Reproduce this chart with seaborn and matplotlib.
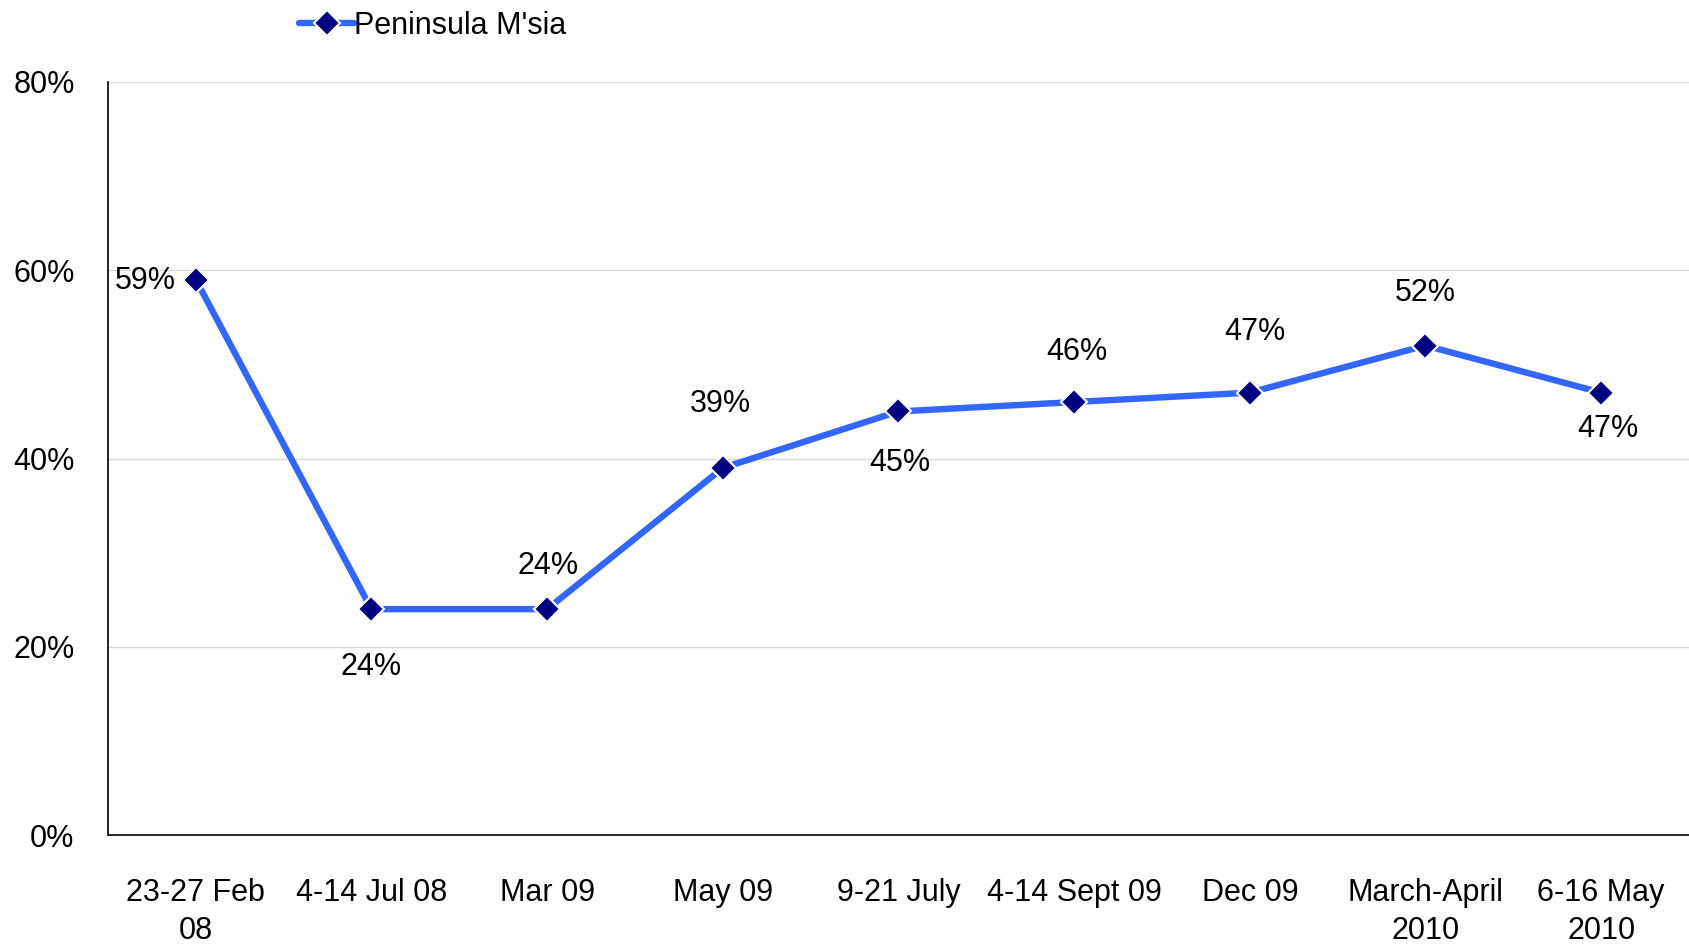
import matplotlib
matplotlib.use("Agg")
import matplotlib.pyplot as plt
import seaborn as sns
import numpy as np
import pandas as pd

sns.set_style("white")
plt.rcParams["font.family"] = ["Liberation Sans Narrow", "Liberation Sans", "DejaVu Sans"]
plt.rcParams["text.color"] = "black"
plt.rcParams["xtick.color"] = "#808080"
plt.rcParams["ytick.color"] = "#808080"
plt.rcParams["xtick.labelcolor"] = "black"
plt.rcParams["ytick.labelcolor"] = "black"

periods = ["23-27 Feb\n08", "4-14 Jul 08", "Mar 09", "May 09", "9-21 July",
           "4-14 Sept 09", "Dec 09", "March-April\n2010", "6-16 May\n2010"]
values = [0.59, 0.24, 0.24, 0.39, 0.45, 0.46, 0.47, 0.52, 0.47]
series_name = "Peninsula M'sia"
y_ticks = [0.0, 0.2, 0.4, 0.6, 0.8]

# label offsets in points (dx, dy)
label_offsets = [(-36, -1), (0, -42), (1, 31), (-2, 46), (1, -37),
                 (2, 36), (4, 44), (0, 38), (5, -26)]

LINE = "#3366FF"
MARK = "#000080"
FS = 22

df = pd.DataFrame({"x": np.arange(len(periods)), "value": values, "series": series_name})

fig = plt.figure(figsize=(16.89, 9.5), dpi=100)
ax = fig.add_axes([0.0639, 0.121, 0.9361, 0.7927])

sns.lineplot(data=df, x="x", y="value", hue="series", palette=[LINE], ax=ax,
             linewidth=4.6, marker="D", markersize=13, markerfacecolor=MARK,
             markeredgecolor="white", markeredgewidth=1.5)

for i, (v, (dx, dy)) in enumerate(zip(values, label_offsets)):
    ax.annotate(f"{v:.0%}", (i, v), xytext=(dx, dy), textcoords="offset points",
                ha="center", va="center", fontsize=FS, color="black")

ax.set_xlim(-0.5, len(periods) - 0.5)
ax.set_ylim(0, 0.8)
ax.set_yticks(y_ticks)
ax.set_yticklabels([f"{t:.0%}" for t in y_ticks], fontsize=FS)
ax.set_xticks(np.arange(len(periods)))
ax.set_xticklabels(periods, fontsize=FS, linespacing=1.35)
ax.set_xticks(np.arange(len(periods) + 1) - 0.5, minor=True)
ax.tick_params(axis="x", which="major", length=0, pad=31)
ax.tick_params(axis="x", which="minor", length=10, width=1, direction="out")
ax.tick_params(axis="y", which="major", length=7, width=1, direction="out", pad=17)
ax.set_xlabel("")
ax.set_ylabel("")

ax.yaxis.grid(True, color="#d9d9d9", linewidth=1)
ax.xaxis.grid(False)
ax.set_axisbelow(True)
for s in ["top", "right"]:
    ax.spines[s].set_visible(False)
for s in ["left", "bottom"]:
    ax.spines[s].set_color("black")
    ax.spines[s].set_linewidth(1.2)

ax.legend(loc="center left", bbox_to_anchor=(0.168, 0.973), bbox_transform=fig.transFigure,
          frameon=False, fontsize=FS, handlelength=1.8, handletextpad=0.0, borderpad=0)

fig.savefig("out.png", dpi=100)
plt.close(fig)
